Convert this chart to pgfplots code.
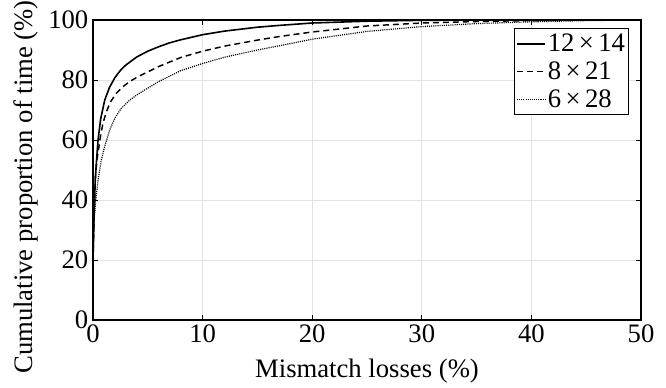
\documentclass[border=0pt]{standalone}
\usepackage{fontspec}
\setmainfont{Liberation Serif}
\usepackage{pgfplots}
\pgfplotsset{compat=1.18}
\begin{document}
\begin{tikzpicture}
\begin{axis}[
  scale only axis,
  width=411pt, height=225pt,
  xmin=0, xmax=50, ymin=0, ymax=100,
  xtick={0,10,...,50}, ytick={0,20,...,100},
  tick align=inside,
  tick pos=both,
  major tick length=4pt,
  grid=major,
  grid style={gray!22, line width=0.6pt},
  axis line style={black, line width=0.8pt},
  tick style={black, line width=0.7pt},
  /pgf/number format/assume math mode=true,
  tick label style={font=\fontsize{20}{22}\selectfont},
  label style={font=\fontsize{20}{22}\selectfont},
  xlabel={Mismatch losses (\%)},
  ylabel={Cumulative proportion of time (\%)},
  xlabel style={at={(axis description cs:0.5,-0.193)}, anchor=base},
  ylabel style={at={(axis description cs:-0.1095,0.4433)}, anchor=base},
  legend style={at={(0.978,0.973)}, anchor=north east, draw=black, line width=0.8pt,
    font=\fontsize{20}{22}\selectfont, inner xsep=1pt, inner ysep=1pt,
    nodes={inner xsep=1.5pt, inner ysep=3pt}, row sep=0pt, cells={anchor=west}},
  legend image code/.code={\draw[#1] (0pt,0pt) -- (21pt,0pt);},
]
\addplot[black, line width=1.2pt] coordinates {
(0,20) (0.1,35) (0.2,46) (0.3,52) (0.46,60) (0.7,67) (1.07,73.3) (1.5,77.5) (2,80.8) (2.5,83.2) (3,85) (4,87.7) (5,89.6) (6,91.1) (7,92.4) (8,93.4) (10,95.1) (12,96.3) (15,97.6) (17,98.2) (20,99) (25,99.6) (30,99.9) (35,100) (50,100)
};
\addlegendentry{12\,×\,14}
\addplot[black, line width=1.1pt, dash pattern=on 4.5pt off 3pt] coordinates {
(0,20) (0.1,36) (0.21,47.5) (0.36,53.3) (0.67,61) (0.91,65.6) (1.22,69.4) (1.61,72.8) (2.13,75.6) (2.74,77.8) (3.35,79.5) (4.11,81.1) (5,82.7) (6,84.5) (8,87.5) (10,89.6) (12,91.3) (15,93.3) (17,94.5) (20,96) (25,98) (30,99) (35,99.5) (40,99.8) (45,100) (50,100)
};
\addlegendentry{8\,×\,21}
\addplot[black, line width=0.9pt, dash pattern=on 0.8pt off 0.8pt] coordinates {
(0,20) (0.1,33) (0.25,40) (0.46,46.7) (0.76,53.3) (1.06,57.8) (1.52,63.3) (1.98,67.2) (2.59,70.6) (3.35,73.3) (4.11,75.3) (5,77.3) (6,79.5) (8,83.1) (10,85.5) (12,87.6) (15,90) (17,91.4) (20,93.6) (25,96.2) (30,97.8) (35,98.8) (40,99.4) (45,99.8) (50,100)
};
\addlegendentry{6\,×\,28}
\end{axis}
\pgfresetboundingbox
\useasboundingbox ([shift={(-69.75pt,-50.25pt)}]current axis.south west) rectangle ([shift={(18.75pt,15pt)}]current axis.north east);
\end{tikzpicture}
\end{document}
